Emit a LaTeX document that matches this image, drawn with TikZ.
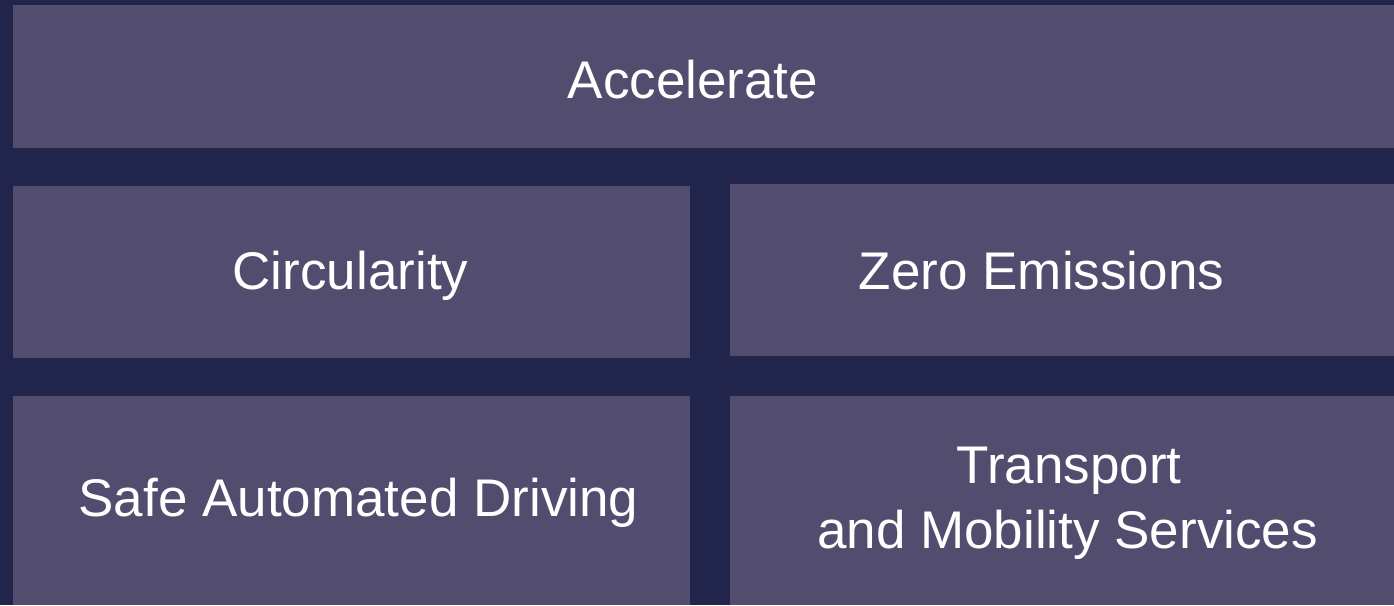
\documentclass[tikz,border=0pt]{standalone}
\usepackage{fontspec}
\setmainfont{Liberation Sans}
\definecolor{bgnavy}{RGB}{33,37,75}
\definecolor{boxpurple}{RGB}{82,76,111}
\begin{document}
\begin{tikzpicture}[x=1pt,y=-1pt,
  panel/.style={fill=boxpurple,draw=none,inner sep=0pt,outer sep=0pt},
  lbl/.style={text=white,font=\fontsize{53}{65}\selectfont,anchor=base,inner sep=0pt}]
\fill[bgnavy] (0,0) rectangle (1394,605);
\useasboundingbox (0,0) rectangle (1394,605);
% panels
\path[panel] (13,5) rectangle (1394,148) coordinate (topbox);
\path[panel] (13,186) rectangle (690,358);
\path[panel] (730,184) rectangle (1394,356);
\path[panel] (13,396) rectangle (690,605);
\path[panel] (730,396) rectangle (1394,605);
% labels
\node[lbl] (accel) at (693,98.5) {Accelerate};
\node[lbl] (circ) at (350.5,289) {Circularity};
\node[lbl] (zero) at (1041.5,289) {Zero Emissions};
\node[lbl] (safe) at (358.5,516) {Safe Automated Driving};
\node[lbl] (trans1) at (1069,483) {Transport};
\node[lbl] (trans2) at (1067.5,548) {and Mobility Services};
\end{tikzpicture}
\end{document}
